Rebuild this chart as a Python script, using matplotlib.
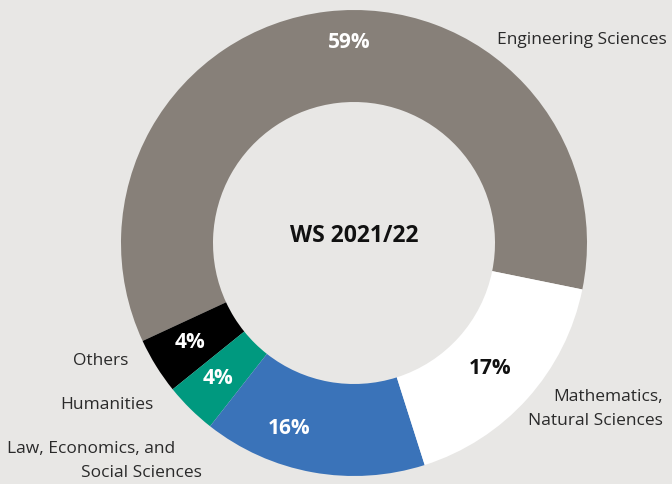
import matplotlib.pyplot as plt

plt.rcParams["font.family"] = ["Open Sans", "DejaVu Sans"]

# shares as drawn (wedge angles), labels as printed in the chart
categories = ["Engineering Sciences", "Others", "Humanities",
              "Law, Economics, and Social Sciences", "Mathematics, Natural Sciences"]
shares = [60.1, 3.9, 3.6, 15.5, 16.9]
pct_labels = ["59%", "4%", "4%", "16%", "17%"]
colors = ["#878079", "#000000", "#00997f", "#3a73b9", "#ffffff"]
pct_colors = ["white", "white", "white", "white", "#111111"]

bg = "#e8e7e5"
txt = "#2a2a2a"

fig = plt.figure(figsize=(6.72, 4.84), dpi=100, facecolor=bg)
ax = fig.add_axes([0, 0, 1, 1])
ax.set_facecolor(bg)

cx, cy, r = 354, 241, 233
ax.pie(shares, colors=colors, startangle=-11.5, counterclock=True,
       radius=r, center=(cx, cy), frame=True,
       wedgeprops=dict(width=92, linewidth=0))
ax.set_xlim(0, 672)
ax.set_ylim(0, 484)
ax.set_aspect("equal")
ax.axis("off")

# percentage labels inside the ring
pct_pos = [(349, 441), (190, 142), (218, 105), (289, 56), (490, 115)]
for (x, y), lab, c in zip(pct_pos, pct_labels, pct_colors):
    ax.text(x, y, lab, ha="center", va="center", fontsize=15,
            fontweight="bold", color=c)

ax.text(cx, 248, "WS 2021/22", ha="center", va="center", fontsize=16.5,
        fontweight="bold", color="#111111")

# category labels
fs = 12.5
ax.text(497, 444, categories[0], ha="left", va="center", fontsize=fs, color=txt)
ax.text(663, 87, "Mathematics,", ha="right", va="center", fontsize=fs, color=txt)
ax.text(663, 63, "Natural Sciences", ha="right", va="center", fontsize=fs, color=txt)
ax.text(128, 123, categories[1], ha="right", va="center", fontsize=fs, color=txt)
ax.text(153, 79, categories[2], ha="right", va="center", fontsize=fs, color=txt)
ax.text(7, 35, "Law, Economics, and", ha="left", va="center", fontsize=fs, color=txt)
ax.text(202, 11, "Social Sciences", ha="right", va="center", fontsize=fs, color=txt)

fig.savefig("out.png", dpi=100, facecolor=bg)
